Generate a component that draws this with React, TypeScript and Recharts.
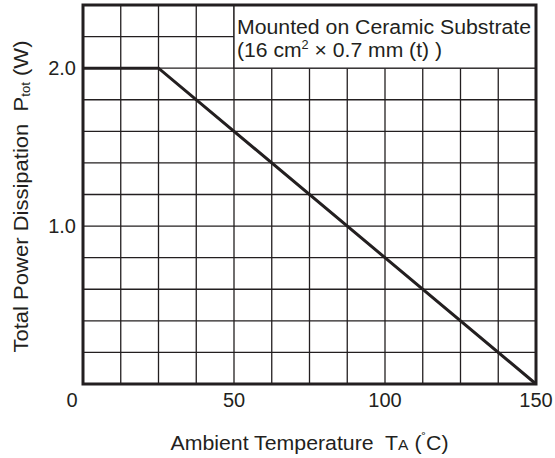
import { LineChart, Line, XAxis, YAxis, CartesianGrid, ReferenceArea } from 'recharts';

// derating curve: flat at 2.0 W up to 25 °C, then linear to 0 at 150 °C
const temperature = [0, 25, 150];
const powerDissipation = [2.0, 2.0, 0];

const xGridTicks = [0, 12.5, 25, 37.5, 50, 62.5, 75, 87.5, 100, 112.5, 125, 137.5, 150];
const xTickLabels = [0, 50, 100, 150];
const yGridTicks = [0, 0.2, 0.4, 0.6, 0.8, 1.0, 1.2, 1.4, 1.6, 1.8, 2.0, 2.2, 2.4];
const yTickLabels = [1.0, 2.0];

const INK = '#231f20';
const FONT = '"Liberation Sans", Arial, Helvetica, sans-serif';

const data = temperature.map((t, i) => ({ t, p: powerDissipation[i] }));

function XTick({ x, y, payload }: any) {
  if (!xTickLabels.includes(payload.value)) return <g />;
  // the "0" label sits a bit left of the axis origin in the original
  const shift = payload.value === 0 ? -11 : 0;
  return (
    <text x={x + shift} y={y} dy={15} textAnchor="middle" fill={INK} fontSize={20} fontFamily={FONT}>
      {payload.value}
    </text>
  );
}

function YTick({ x, y, payload }: any) {
  if (!yTickLabels.includes(payload.value)) return <g />;
  return (
    <text x={x + 1} y={y} dy={7} textAnchor="end" fill={INK} fontSize={20} fontFamily={FONT}>
      {payload.value.toFixed(1)}
    </text>
  );
}

function NoteLabel({ viewBox }: any) {
  const { x, y } = viewBox;
  return (
    <g fill={INK} fontSize={20} fontFamily={FONT}>
      <text x={x + 3} y={y + 29} textLength={294} lengthAdjust="spacingAndGlyphs">
        Mounted on Ceramic Substrate
      </text>
      <text x={x + 3} y={y + 52} textLength={205} lengthAdjust="spacingAndGlyphs">
        (16 cm<tspan fontSize={12} dy={-8}>2</tspan>
        <tspan dy={8}> × 0.7 mm (t) )</tspan>
      </text>
    </g>
  );
}

function XLabel({ viewBox }: any) {
  const { x, y, width } = viewBox;
  return (
    <text
      x={x + width / 2}
      y={y + 66}
      textAnchor="middle"
      fill={INK}
      fontSize={20.5}
      fontFamily={FONT}
      textLength={278}
      lengthAdjust="spacingAndGlyphs"
      xmlSpace="preserve"
    >
      Ambient Temperature{'  '}T<tspan fontSize={15}>A</tspan> (<tspan fontSize={13} dy={-8}>˚</tspan>
      <tspan dy={8}>C)</tspan>
    </text>
  );
}

function YLabel({ viewBox }: any) {
  const { y, height } = viewBox;
  const cx = 28;
  const cy = y + height / 2 + 2;
  return (
    <text
      x={cx}
      y={cy}
      transform={`rotate(-90 ${cx} ${cy})`}
      textAnchor="middle"
      fill={INK}
      fontSize={20}
      fontFamily={FONT}
      textLength={312}
      lengthAdjust="spacingAndGlyphs"
      xmlSpace="preserve"
    >
      Total Power Dissipation{'  '}P<tspan fontSize={12} dy={2}>tot</tspan>
      <tspan dy={-2}> (W)</tspan>
    </text>
  );
}

export default function App() {
  return (
    <div style={{ position: 'absolute', left: 0, top: 0, width: 555, height: 458, background: '#fff' }}>
      <LineChart width={555} height={458} data={data} margin={{ top: 5, right: 19, bottom: 0, left: 0 }}>
        <CartesianGrid stroke={INK} strokeWidth={1.3} />
        <XAxis
          dataKey="t"
          type="number"
          domain={[0, 150]}
          ticks={xGridTicks}
          interval={0}
          height={74}
          tickLine={false}
          axisLine={false}
          tick={<XTick />}
          label={<XLabel />}
        />
        <YAxis
          type="number"
          domain={[0, 2.4]}
          ticks={yGridTicks}
          interval={0}
          width={83}
          tickLine={false}
          axisLine={false}
          tick={<YTick />}
          label={<YLabel />}
        />
        <ReferenceArea
          x1={50}
          x2={150}
          y1={2.0}
          y2={2.4}
          fill="#fff"
          fillOpacity={1}
          stroke={INK}
          strokeWidth={1.3}
          label={<NoteLabel />}
        />
        <Line
          dataKey="p"
          type="linear"
          stroke={INK}
          strokeWidth={3}
          dot={false}
          activeDot={false}
          isAnimationActive={false}
        />
        <ReferenceArea x1={0} x2={150} y1={0} y2={2.4} fill="none" stroke={INK} strokeWidth={3} />
      </LineChart>
    </div>
  );
}
